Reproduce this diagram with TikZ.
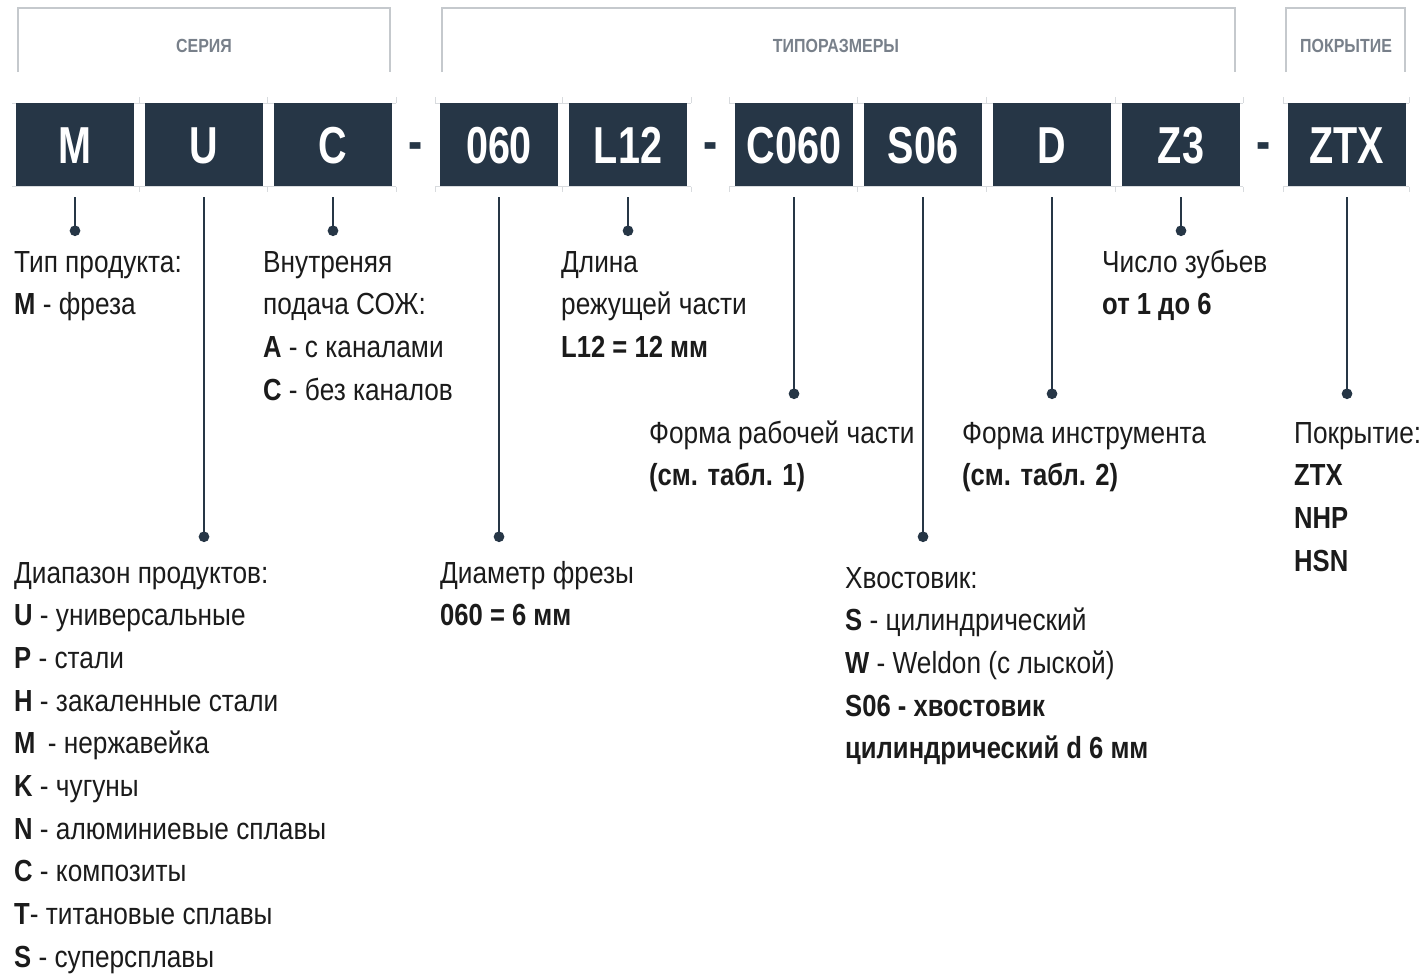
\documentclass[tikz,border=0pt]{standalone}
\usepackage{fontspec}
\setmainfont{Liberation Sans}[FakeStretch=0.86, BoldFeatures={FakeStretch=0.84}]
\newfontfamily\boxfont{Liberation Sans}[FakeStretch=0.76]
\usepackage{xcolor}
\usetikzlibrary{arrows.meta,positioning,calc}
\definecolor{slate}{RGB}{38,54,70}
\definecolor{capgray}{RGB}{120,128,138}
\definecolor{brgray}{RGB}{197,201,205}
\definecolor{guidegray}{RGB}{216,219,222}
\definecolor{ink}{RGB}{27,27,27}
\tikzset{
	codebox/.style = {fill=slate, text=white, minimum width=118pt, minimum height=83pt,
		inner sep=0, outer sep=0, text height=37pt, text depth=0pt, font=\boxfont\fontsize{52}{52}\selectfont\bfseries},
	dashsym/.style = {text=slate, inner sep=0, anchor=base, font=\boxfont\fontsize{56}{56}\selectfont\bfseries},
	lbl/.style = {anchor=base west, inner sep=0, align=left, text=ink, font=\fontsize{30.5}{42.7}\selectfont},
	caption/.style = {text=capgray, inner sep=0, font=\fontsize{19}{19}\selectfont\bfseries},
	bracket/.style = {draw=brgray, line width=2.6pt},
	guide/.style = {draw=guidegray, line width=0.8pt},
	lead/.style = {draw=slate, line width=2.7pt, -{Circle[length=10.5pt]}, shorten >=-5pt}
}
\begin{document}
\begin{tikzpicture}[x=1pt, y=-1pt]
\useasboundingbox (0,0) rectangle (1420,977);

% group brackets
\draw[bracket] (18,72) -- (18,8) -- (390,8) -- (390,72);
\draw[bracket] (442,72) -- (442,8) -- (1235,8) -- (1235,72);
\draw[bracket] (1286,72) -- (1286,8) -- (1405,8) -- (1405,72);
\node[caption] (hSer) at (204,46) {СЕРИЯ};
\node[caption] (hTip) at (836,46) {ТИПОРАЗМЕРЫ};
\node[caption] (hPok) at (1346,46) {ПОКРЫТИЕ};

% faint cell lines
\foreach \a/\b in {12/396, 435/691, 729/1243, 1283/1409} {
	\draw[guide] (\a,103) -- (\b,103);
	\draw[guide] (\a,186.5) -- (\b,186.5);
}
\foreach \x in {139.5,267.5,396,435,562.5,691,729,857,986,1115,1243,1283,1409} {
	\draw[guide] (\x,97) -- (\x,103);
	\draw[guide] (\x,186.5) -- (\x,192);
}

% code boxes
\node[codebox, anchor=north west] (bM) at (16,103) {M};
\node[codebox, right=11pt of bM] (bU) {U};
\node[codebox, right=11pt of bU] (bC) {C};
\node[codebox, right=48pt of bC] (b060) {060};
\node[codebox, right=11pt of b060] (bL12) {L12};
\node[codebox, right=48pt of bL12] (bC060) {C060};
\node[codebox, right=11pt of bC060] (bS06) {S06};
\node[codebox, right=11pt of bS06] (bD) {D};
\node[codebox, right=11pt of bD] (bZ3) {Z3};
\node[codebox, right=48pt of bZ3] (bZTX) {ZTX};

\node[dashsym] (m1) at ($(bC.east)!.5!(b060.west)+(0,16)$) {-};
\node[dashsym] (m2) at ($(bL12.east)!.5!(bC060.west)+(0,16)$) {-};
\node[dashsym] (m3) at ($(bZ3.east)!.5!(bZTX.west)+(0,16)$) {-};

% descriptions (anchored at the baseline of the last line)
\node[lbl] (lM) at (14,314.7) {Тип продукта:\\\textbf{M} - фреза};
\node[lbl] (lC) at (263,400.1) {Внутреняя\\подача СОЖ:\\\textbf{A} - с каналами\\\textbf{C} - без каналов};
\node[lbl] (lL12) at (561,357.4) {Длина\\режущей части\\\textbf{L12 = 12 мм}};
\node[lbl] (lZ3) at (1102,314.7) {Число зубьев\\\textbf{от 1 до 6}};
\node[lbl] (lC060) at (649,485.7) {Форма рабочей части\\\textbf{(см. табл. 1)}};
\node[lbl] (lD) at (962,485.7) {Форма инструмента\\\textbf{(см. табл. 2)}};
\node[lbl] (lZTX) at (1294,571.1) {Покрытие:\\\textbf{ZTX}\\\textbf{NHP}\\\textbf{HSN}};
\node[lbl] (lU) at (14,967.3) {Диапазон продуктов:\\\textbf{U} - универсальные\\\textbf{P} - стали\\\textbf{H} - закаленные стали\\\textbf{M} \,- нержавейка\\\textbf{K} - чугуны\\\textbf{N} - алюминиевые сплавы\\\textbf{C} - композиты\\\textbf{T}- титановые сплавы\\\textbf{S} - суперсплавы};
\node[lbl] (l060) at (440,625.7) {Диаметр фрезы\\\textbf{060 = 6 мм}};
\node[lbl] (lS06) at (845,758.8) {Хвостовик:\\\textbf{S} - цилиндрический\\\textbf{W} - Weldon (с лыской)\\\textbf{S06 - хвостовик}\\\textbf{цилиндрический d 6 мм}};

% leader lines
\foreach \b/\d in {M/45, U/351, C/45, 060/351, L12/45, C060/208, S06/351, D/208, Z3/45, ZTX/208} {
	\coordinate (d\b) at ([yshift=-\d pt]b\b.south);
	\draw[lead] ([yshift=-11pt]b\b.south) -- (d\b);
}
\end{tikzpicture}
\end{document}
